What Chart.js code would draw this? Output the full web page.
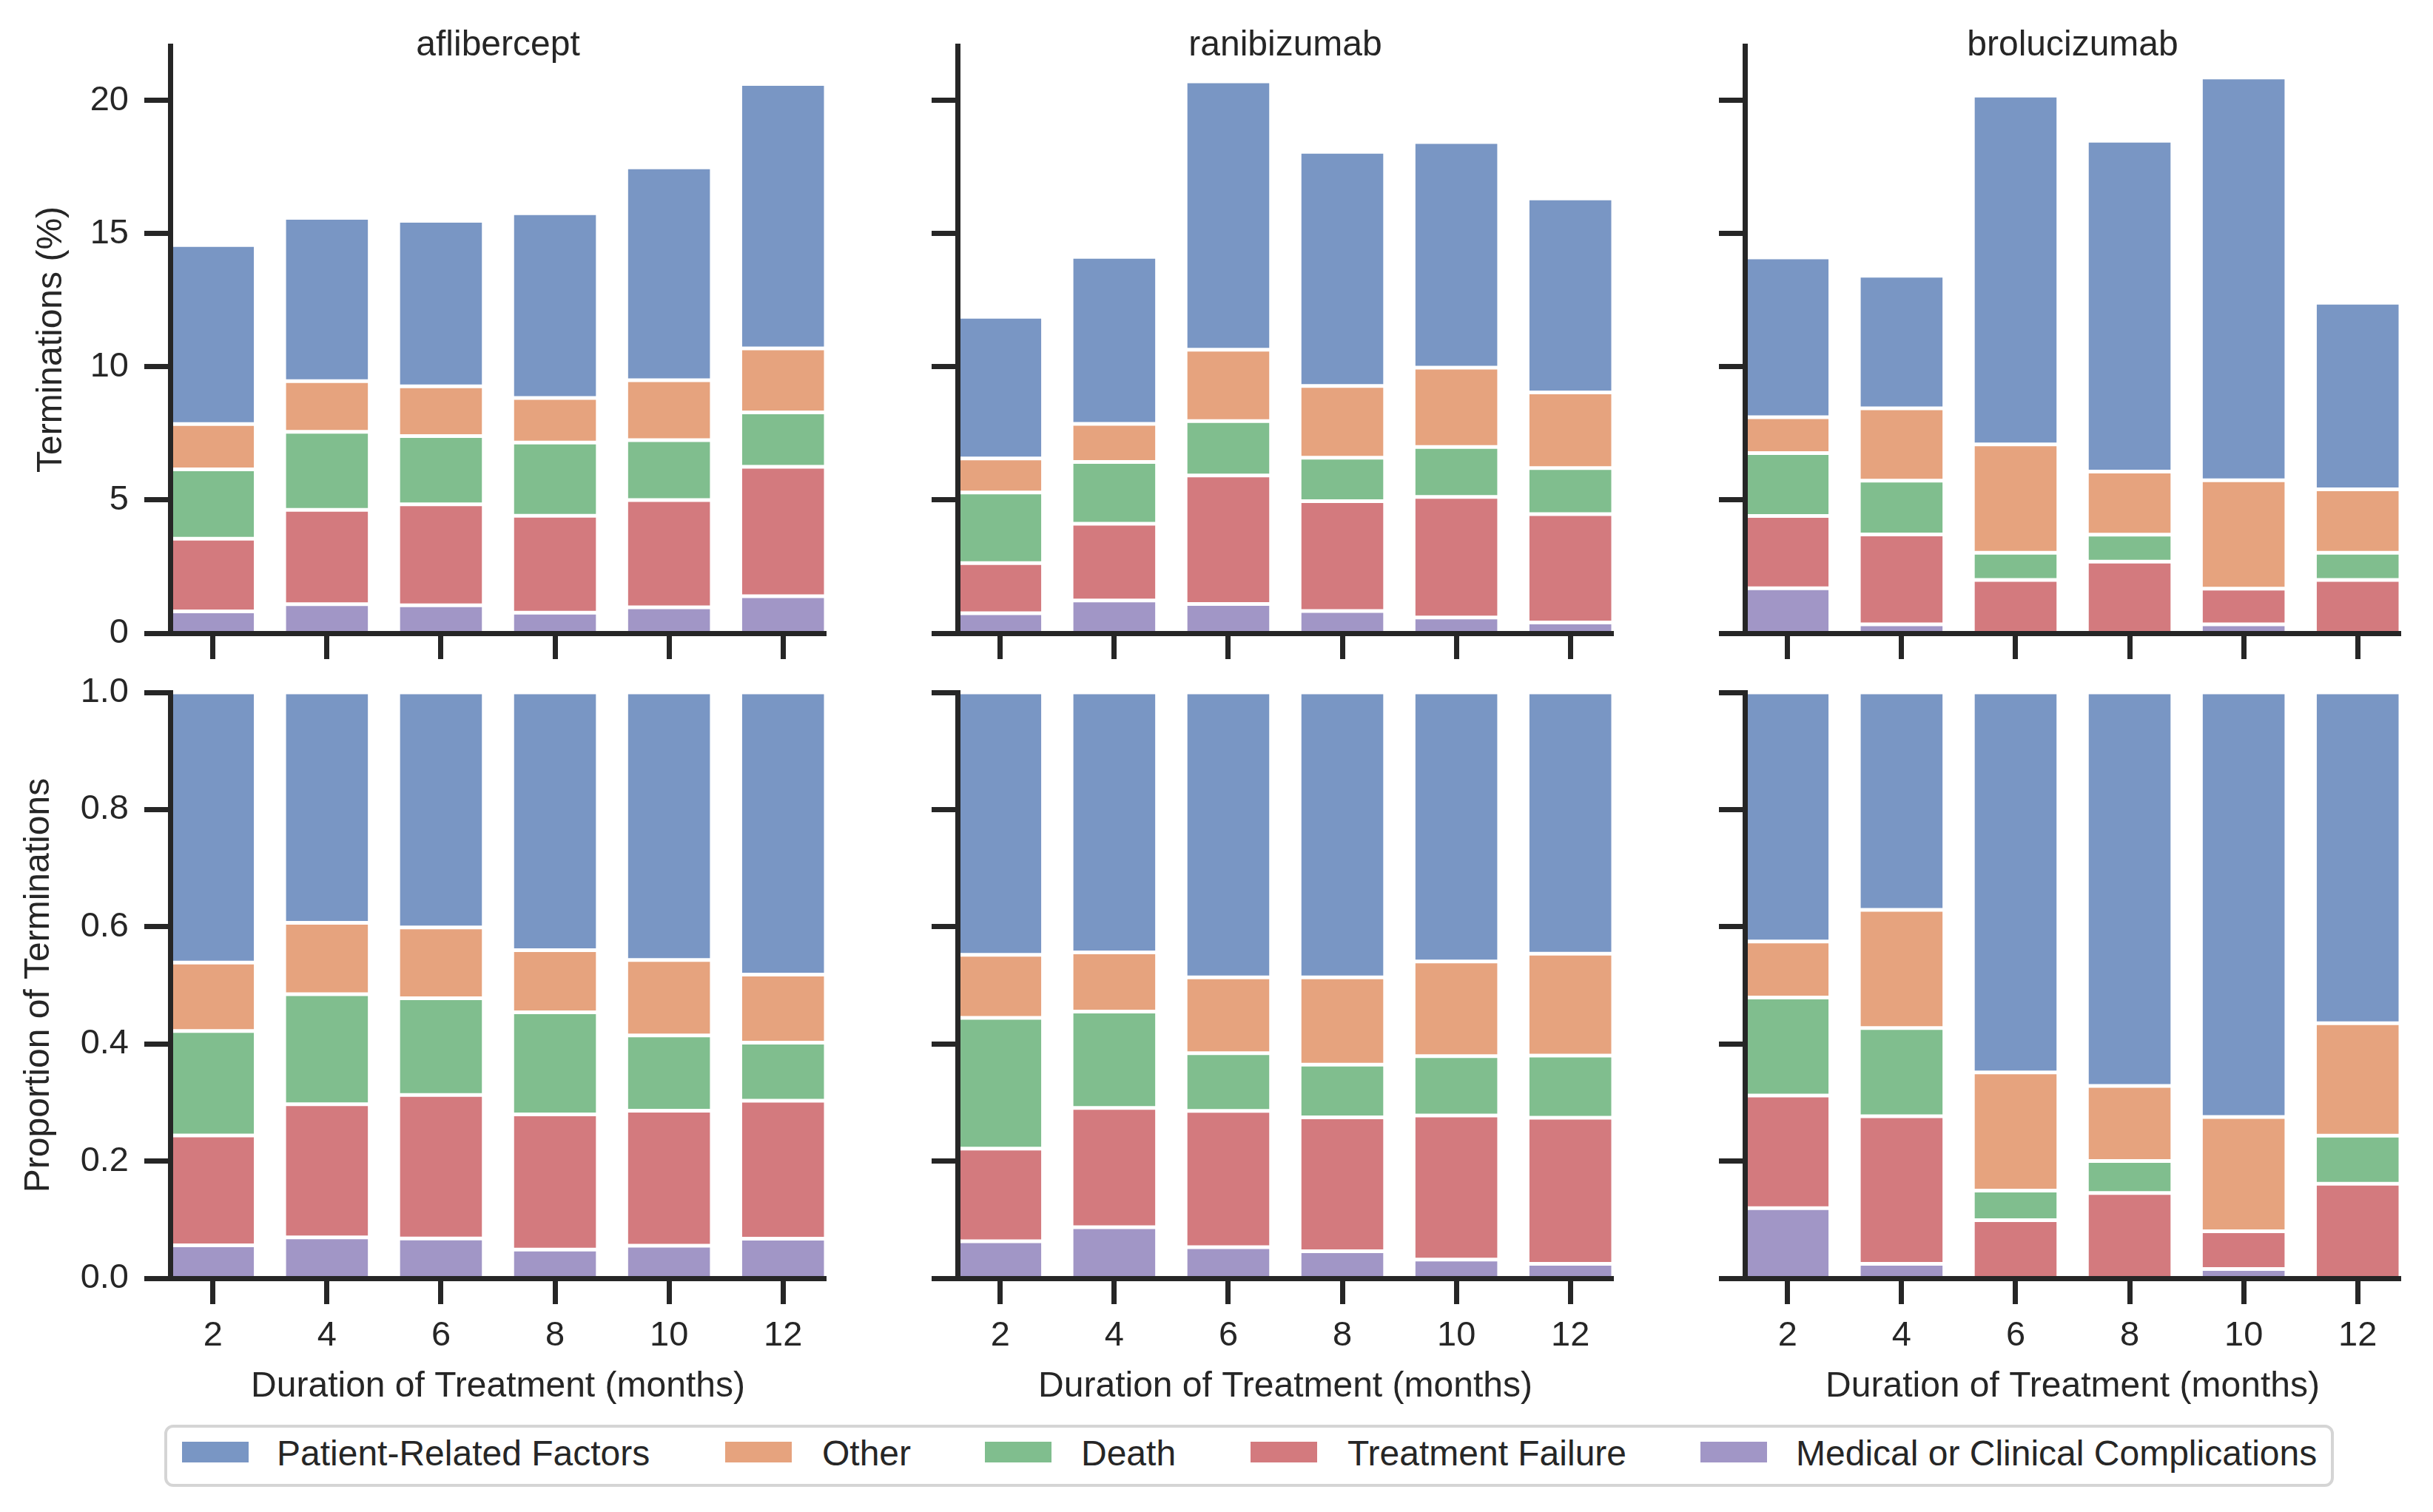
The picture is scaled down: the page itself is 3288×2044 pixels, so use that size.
<!DOCTYPE html>
<html><head><meta charset="utf-8">
<script src="https://cdn.jsdelivr.net/npm/chart.js@4.4.1/dist/chart.umd.min.js"></script>
<style>
html,body{margin:0;padding:0;background:#fff;}
#fig{position:relative;width:3288px;height:2044px;overflow:hidden;background:#fff;font-family:"Liberation Sans",Arial,sans-serif;color:#262626;}
#fig canvas{position:absolute;}
.ptitle{position:absolute;width:600px;text-align:center;font-size:48px;line-height:48px;white-space:nowrap;}
#legendBox{position:absolute;left:222px;top:1926px;width:2924px;height:76px;border:4px solid #d5d5d5;border-radius:12px;box-sizing:content-box;}
.lp{position:absolute;width:90px;height:28px;}
.lt{position:absolute;font-size:48px;line-height:48px;white-space:nowrap;}
</style></head>
<body>
<div id="fig"><div id="legendBox"></div></div>
<script>
// ---------- data ----------
const months = [2, 4, 6, 8, 10, 12];
const drugs = ['aflibercept', 'ranibizumab', 'brolucizumab'];
const reasons = ['Patient-Related Factors', 'Other', 'Death', 'Treatment Failure', 'Medical or Clinical Complications'];
const xTicks = [2, 4, 6, 8, 10, 12];
const yTicksTop = [0, 5, 10, 15, 20];
const yTicksBottom = [0, 0.2, 0.4, 0.6, 0.8, 1.0];

// terminations (%) per reason, by duration
const afliberceptPatient   = [6.72, 6.13, 6.21, 6.94, 7.99, 9.93];
const afliberceptOther     = [1.70, 1.90, 1.87, 1.67, 2.25, 2.40];
const afliberceptDeath     = [2.60, 2.93, 2.56, 2.75, 2.25, 2.04];
const afliberceptFailure   = [2.73, 3.54, 3.79, 3.64, 4.03, 4.86];
const afliberceptMedical   = [0.82, 1.09, 1.05, 0.77, 0.97, 1.39];

const ranibizumabPatient   = [5.32, 6.27, 10.08, 8.79, 8.47, 7.28];
const ranibizumabOther     = [1.28, 1.43, 2.68, 2.69, 2.98, 2.84];
const ranibizumabDeath     = [2.65, 2.32, 2.04, 1.63, 1.87, 1.73];
const ranibizumabFailure   = [1.88, 2.88, 4.82, 4.13, 4.53, 4.07];
const ranibizumabMedical   = [0.75, 1.23, 1.10, 0.83, 0.59, 0.40];

const brolucizumabPatient  = [6.00, 4.98, 13.09, 12.42, 15.12, 7.01];
const brolucizumabOther    = [1.35, 2.71, 4.07, 2.37, 4.07, 2.38];
const brolucizumabDeath    = [2.36, 2.02, 1.02, 1.01, 0.00, 1.02];
const brolucizumabFailure  = [2.71, 3.38, 2.00, 2.69, 1.34, 2.00];
const brolucizumabMedical  = [1.69, 0.33, 0.00, 0.00, 0.33, 0.00];

// ---------- styling / layout ----------
const FONT = '"Liberation Sans", Arial, sans-serif';
const INK = '#262626';
const reasonColors = ['#7996c4', '#e6a37e', '#80be8e', '#d37a7e', '#a196c6'];
const COL_LEFT = [230, 1294, 2358];   // plot-area left edges
const PLOT_W = 886;
const Y_AXIS_W = 230;

const seriesByDrug = [
  [afliberceptPatient, afliberceptOther, afliberceptDeath, afliberceptFailure, afliberceptMedical],
  [ranibizumabPatient, ranibizumabOther, ranibizumabDeath, ranibizumabFailure, ranibizumabMedical],
  [brolucizumabPatient, brolucizumabOther, brolucizumabDeath, brolucizumabFailure, brolucizumabMedical]
];

const fig = document.getElementById('fig');

function makePanel(di, row) {
  const cv = document.createElement('canvas');
  const W = Y_AXIS_W + PLOT_W + 24;
  const H = row === 0 ? 910 : 1040;
  cv.width = W; cv.height = H;
  cv.style.left = (COL_LEFT[di] - Y_AXIS_W) + 'px';
  cv.style.top = (row === 0 ? 0 : 880) + 'px';
  cv.style.width = W + 'px'; cv.style.height = H + 'px';
  fig.appendChild(cv);

  const series = seriesByDrug[di];
  const totals = months.map((m, i) => series.reduce((s, arr) => s + arr[i], 0));
  // stacking order: bottom (last reason) to top (first reason)
  const order = [4, 3, 2, 1, 0];
  const datasets = order.map(r => ({
    label: reasons[r],
    data: months.map((m, i) => ({x: m, y: row === 0 ? series[r][i] : series[r][i] / totals[i]})),
    backgroundColor: reasonColors[r],
    borderColor: '#ffffff',
    borderWidth: {top: 2.5, bottom: 2.5, left: 2.5, right: 2.5},
    borderSkipped: false,
    barPercentage: 0.75,
    categoryPercentage: 1
  }));

  const gridOpts = {display: true, offset: false, drawOnChartArea: false, drawTicks: true,
                    tickLength: 35, tickWidth: 7, tickColor: INK, color: INK};

  new Chart(cv, {
    type: 'bar',
    data: {datasets},
    options: {
      responsive: false, devicePixelRatio: 1, animation: false,
      layout: {padding: {top: row === 0 ? 62 : 56, right: 24, bottom: 0, left: 0}},
      plugins: {legend: {display: false}, tooltip: {enabled: false}, title: {display: false}},
      scales: {
        x: {
          type: 'linear', stacked: true, offset: false, min: 1.25, max: 12.75,
          afterBuildTicks: s => { s.ticks = xTicks.map(v => ({value: v})); },
          afterFit: s => { s.height = row === 0 ? 54 : 192; },
          grid: gridOpts,
          border: {display: true, width: 7, color: INK, z: 1},
          ticks: {display: row === 1, padding: 15, color: INK, autoSkip: false, maxRotation: 0,
                  font: {family: FONT, size: 47}, callback: v => String(v)},
          title: {display: row === 1, text: 'Duration of Treatment (months)', color: INK,
                  font: {family: FONT, size: 48}, padding: {top: 0, bottom: 16}}
        },
        y: {
          type: 'linear', stacked: true, min: 0, max: row === 0 ? 22.05 : 1,
          afterBuildTicks: s => { s.ticks = (row === 0 ? yTicksTop : yTicksBottom).map(v => ({value: v})); },
          afterFit: s => { s.width = Y_AXIS_W; },
          grid: gridOpts,
          border: {display: true, width: 7, color: INK, z: 1},
          ticks: {display: di === 0, padding: 21, color: INK, font: {family: FONT, size: 47},
                  callback: v => row === 0 ? String(v) : Number(v).toFixed(1)},
          title: {display: di === 0, text: row === 0 ? 'Terminations (%)' : 'Proportion of Terminations',
                  color: INK, font: {family: FONT, size: 48},
                  padding: {top: row === 0 ? 41 : 24, bottom: 0}}
        }
      }
    }
  });
}

for (let row = 0; row < 2; row++) for (let di = 0; di < 3; di++) makePanel(di, row);

// panel titles
drugs.forEach((d, di) => {
  const t = document.createElement('div');
  t.className = 'ptitle';
  t.textContent = d;
  t.style.left = (COL_LEFT[di] + PLOT_W / 2 - 300) + 'px';
  t.style.top = '35px';
  fig.appendChild(t);
});

// legend
const legendPatchX = [246, 980, 1331, 1690, 2298];
const legendTextX = [374, 1111, 1461, 1821, 2427];
reasons.forEach((r, i) => {
  const p = document.createElement('div');
  p.className = 'lp';
  p.style.left = legendPatchX[i] + 'px';
  p.style.top = '1949px';
  p.style.background = reasonColors[i];
  fig.appendChild(p);
  const t = document.createElement('div');
  t.className = 'lt';
  t.style.left = legendTextX[i] + 'px';
  t.style.top = '1941px';
  t.textContent = r;
  fig.appendChild(t);
});
</script>
</body></html>
